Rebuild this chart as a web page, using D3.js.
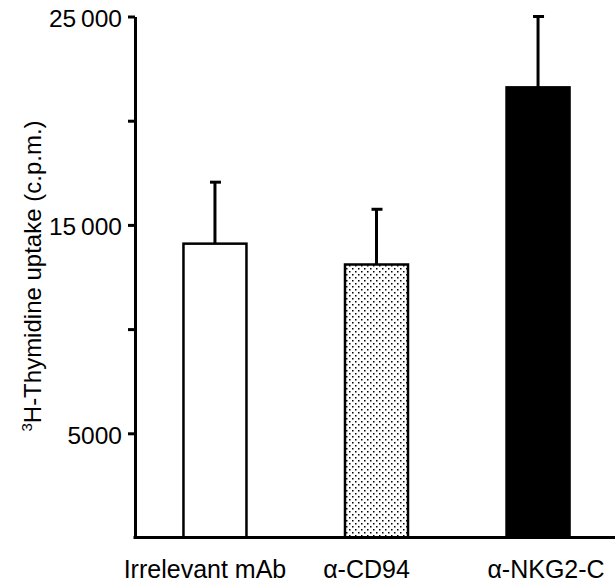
<!DOCTYPE html>
<html>
<head>
<meta charset="utf-8">
<script src="https://cdn.jsdelivr.net/npm/d3@7"></script>
<style>
  body { margin: 0; background: #fff; }
  svg { display: block; font-family: "Liberation Sans", Arial, sans-serif; }
</style>
</head>
<body>
<svg id="chart" width="615" height="584"></svg>
<script>
// data
const categories = ["Irrelevant mAb", "\u03B1-CD94", "\u03B1-NKG2-C"];
const means = [14100, 13100, 21600];
const errors = [2950, 2650, 3400];
const yTicks = [5000, 10000, 15000, 20000, 25000];
const yTickLabels = ["5000", "", "15\u2009000", "", "25\u2009000"];

const data = categories.map((c, i) => ({ cat: c, mean: means[i], err: errors[i] }));

const svg = d3.select("#chart");

// dotted fill for the middle bar
const defs = svg.append("defs");
const pat = defs.append("pattern")
  .attr("id", "dots")
  .attr("patternUnits", "userSpaceOnUse")
  .attr("width", 6).attr("height", 6);
pat.append("rect").attr("width", 6).attr("height", 6).attr("fill", "#fff");
pat.append("rect").attr("x", 1).attr("y", 1).attr("width", 1.5).attr("height", 1.5).attr("fill", "#000");
pat.append("rect").attr("x", 4).attr("y", 4).attr("width", 1.5).attr("height", 1.5).attr("fill", "#000");

const fills = ["#fff", "url(#dots)", "#000"];

let xScale = d3.scaleBand()
  .domain(categories)
  .range([135, 618])
  .paddingInner(0.61)
  .paddingOuter(0.3);

let yScale = d3.scaleLinear()
  .domain([0, 25000])
  .range([537.5, 16.5]);

// bars
svg.selectAll(".bar")
  .data(data)
  .enter()
  .append("rect")
  .attr("class", "bar")
  .attr("x", d => xScale(d.cat))
  .attr("y", d => yScale(d.mean))
  .attr("width", xScale.bandwidth())
  .attr("height", d => yScale(0) - yScale(d.mean))
  .attr("fill", (d, i) => fills[i])
  .style("stroke", "black")
  .style("stroke-width", 2.5);

// error bars (upper only)
let cx = d => xScale(d.cat) + xScale.bandwidth() / 2;
svg.selectAll(".whisker")
  .data(data)
  .enter()
  .append("line")
  .attr("class", "whisker")
  .attr("x1", cx).attr("x2", cx)
  .attr("y1", d => yScale(d.mean))
  .attr("y2", d => yScale(d.mean + d.err))
  .style("stroke", "black")
  .style("stroke-width", 3);

svg.selectAll(".cap")
  .data(data)
  .enter()
  .append("line")
  .attr("class", "cap")
  .attr("x1", d => cx(d) - 5).attr("x2", d => cx(d) + 6)
  .attr("y1", d => yScale(d.mean + d.err))
  .attr("y2", d => yScale(d.mean + d.err))
  .style("stroke", "black")
  .style("stroke-width", 3);

// y axis
let yAxis = d3.axisLeft(yScale)
  .tickValues(yTicks)
  .tickFormat((d, i) => yTickLabels[i])
  .tickSizeInner(7)
  .tickSizeOuter(0)
  .tickPadding(6);

let yG = svg.append("g")
  .attr("transform", "translate(135,0)")
  .call(yAxis);
yG.select(".domain").attr("stroke", "black").attr("stroke-width", 3);
yG.selectAll(".tick line").attr("stroke", "black").attr("stroke-width", 3);
yG.selectAll(".tick text")
  .attr("fill", "black")
  .style("font-size", "24.5px")
  .attr("dy", "0.4em");

// x axis baseline
svg.append("line")
  .attr("x1", 133.5).attr("x2", 615)
  .attr("y1", yScale(0)).attr("y2", yScale(0))
  .style("stroke", "black")
  .style("stroke-width", 3);

// category labels (slightly off-centre in the original)
const labelShift = [-10, -10, 8];
svg.selectAll(".xlabel")
  .data(data)
  .enter()
  .append("text")
  .attr("class", "xlabel")
  .attr("x", (d, i) => cx(d) + labelShift[i])
  .attr("y", 578)
  .attr("text-anchor", "middle")
  .style("font-size", "25px")
  .text(d => d.cat);

// y axis title
let yTitle = svg.append("text")
  .attr("transform", "translate(41,276) rotate(-90)")
  .attr("text-anchor", "middle")
  .style("font-size", "24px");
yTitle.append("tspan").text("3").style("font-size", "15px").attr("dy", -9);
yTitle.append("tspan").text("H-Thymidine uptake (c.p.m.)").attr("dy", 9);
</script>
</body>
</html>
